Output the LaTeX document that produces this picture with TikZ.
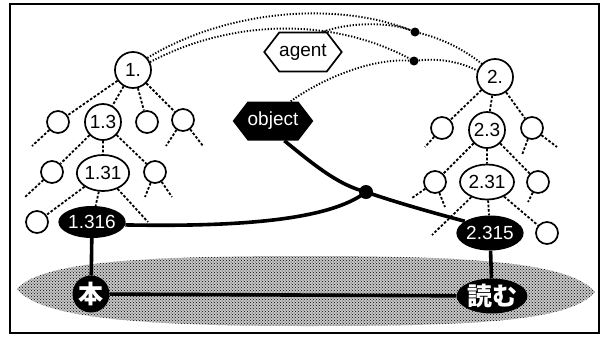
\documentclass[tikz,border=0pt]{standalone}
\usepackage{fontspec}
\setmainfont{Liberation Sans}
\newfontfamily\lab{Liberation Sans}
\newfontfamily\jp{Noto Sans CJK JP}
\usetikzlibrary{shapes.geometric,shapes.symbols,patterns}

\begin{document}
\begin{tikzpicture}[x=1pt,y=-1pt,
  every node/.style={inner sep=0pt, font=\lab\fontsize{19}{19}\selectfont},
  leaf/.style={circle, draw, line width=1.7pt, minimum size=22pt},
  bigc/.style={circle, draw, line width=1.7pt, minimum size=36pt},
  oval/.style={ellipse, draw, line width=1.7pt},
  dark/.style={ellipse, fill=black, text=white},
  hexa/.style={signal, signal to=east and west, signal pointer angle=105,
               minimum width=67pt, minimum height=39pt},
  tree/.style={line width=1.8pt, dash pattern=on 2.6pt off 1.8pt},
  rel/.style={line width=1.9pt, dash pattern=on 1.3pt off 1.7pt},
  heavy/.style={line width=3.6pt},
  dot/.style={circle, fill=black, minimum size=#1}]

\useasboundingbox (0,0) rectangle (607,343);
\draw[line width=1.4pt] (10,4) rectangle (599,333);

% stippled band under the surface words
\path[fill=black!22] (17,289) .. controls (40,262) and (140,256) .. (306,256)
   .. controls (470,256) and (570,262) .. (595,292)
   .. controls (570,322) and (470,326) .. (306,326)
   .. controls (140,326) and (40,318) .. (17,289) -- cycle;
\path[pattern=crosshatch dots, pattern color=black] (17,289) .. controls (40,262) and (140,256) .. (306,256)
   .. controls (470,256) and (570,262) .. (595,292)
   .. controls (570,322) and (470,326) .. (306,326)
   .. controls (140,326) and (40,318) .. (17,289) -- cycle;

% left tree
\node[bigc] (n1) at (133,70) {1.};
\node[leaf] (a1) at (58,122) {};
\node[bigc] (n13) at (103,122) {1.3};
\node[leaf] (a2) at (147,122) {};
\node[leaf] (a3) at (183,120) {};
\node[leaf] (b1) at (52,172) {};
\node[oval, minimum width=50pt, minimum height=36pt] (n131) at (103,173) {1.31};
\node[leaf] (b2) at (155,172) {};
\node[leaf] (c1) at (37,222) {};
\node[dark, minimum width=60pt, minimum height=32pt] (n1316) at (92,222) {1.316};
\node[circle, fill=black, text=white, minimum size=37pt,
      font=\jp\bfseries\fontsize{25}{25}\selectfont] (hon) at (91,294) {本};

% right tree
\node[bigc] (n2) at (495,77) {2.};
\node[leaf] (d1) at (442,128) {};
\node[bigc] (n23) at (487,130) {2.3};
\node[leaf] (d2) at (532,128) {};
\node[leaf] (e1) at (435,182) {};
\node[oval, minimum width=54pt, minimum height=35pt] (n231) at (487,182) {2.31};
\node[leaf] (e2) at (538,182) {};
\node[dark, minimum width=60pt, minimum height=35pt] (n2315) at (490,233) {2.315};
\node[leaf] (f1) at (547,233) {};
\node[dark, minimum width=58pt, minimum height=35pt,
      font=\jp\bfseries\fontsize{25}{25}\selectfont] (yomu) at (492,296) {読む};

% relation labels and link points
\node[hexa, draw, line width=1.7pt] (agent) at (303,52) {agent};
\node[hexa, fill=black, text=white] (object) at (273,121) {object};
\node[dot=9pt] (dotA) at (415,32) {};
\node[dot=9pt] (dotB) at (414,61) {};
\node[dot=14pt] (junc) at (366,192) {};

% open ends of the trees
\coordinate (s1) at (32,146);
\coordinate (s2) at (166,146);
\coordinate (s3) at (203,146);
\coordinate (s4) at (25,197);
\coordinate (s5) at (145,197);
\coordinate (s6) at (172,197);
\coordinate (s7) at (148,222);
\coordinate (t1) at (425,147);
\coordinate (t2) at (522,155);
\coordinate (t3) at (557,147);
\coordinate (t4) at (412,198);
\coordinate (t5) at (445,207);
\coordinate (t6) at (528,202);
\coordinate (t7) at (432,235);

% tree edges
\draw[tree] (n1) -- (a1) (n1) -- (n13) (n1) -- (a2) (n1) -- (a3);
\draw[tree] (a1) -- (s1) (a3) -- (s2) (a3) -- (s3);
\draw[tree] (n13) -- (b1) (n13) -- (n131) (n13) -- (b2);
\draw[tree] (b1) -- (s4) (b2) -- (s5) (b2) -- (s6);
\draw[tree] (n131) -- (c1) (n131) -- (n1316) (n131) -- (s7);
\draw[tree] (n2) -- (d1) (n2) -- (n23) (n2) -- (d2);
\draw[tree] (d1) -- (t1) (d2) -- (t2) (d2) -- (t3);
\draw[tree] (n23) -- (e1) (n23) -- (n231) (n23) -- (e2);
\draw[tree] (e1) -- (t4) (e1) -- (t5) (e2) -- (t6);
\draw[tree] (n231) -- (t7) (n231) -- (n2315) (n231) -- (f1);

% dotted relation links
\draw[rel] (n1.40) .. controls (230,8) and (340,2) .. (dotA);
\draw[rel] (dotA) .. controls (440,38) and (462,48) .. (n2.135);
\draw[rel] (n1.25) .. controls (230,20) and (330,16) .. (dotB);
\draw[rel] (dotB) .. controls (440,58) and (460,62) .. (n2.160);
\draw[rel] (agent.45) .. controls (350,22) and (390,22) .. (dotA);
\draw[rel] (object.48) .. controls (320,80) and (370,58) .. (dotB);

% heavy links
\draw[heavy] (object.-60) .. controls (320,170) and (340,185) .. (junc.center)
             .. controls (395,202) and (430,212) .. (n2315.155);
\draw[heavy] (n1316.-5) .. controls (240,227) and (330,220) .. (junc.center);
\draw[heavy] (n1316) -- (hon);
\draw[heavy] (n2315) -- (yomu);
\draw[heavy] (hon) -- (yomu);
\end{tikzpicture}
\end{document}
